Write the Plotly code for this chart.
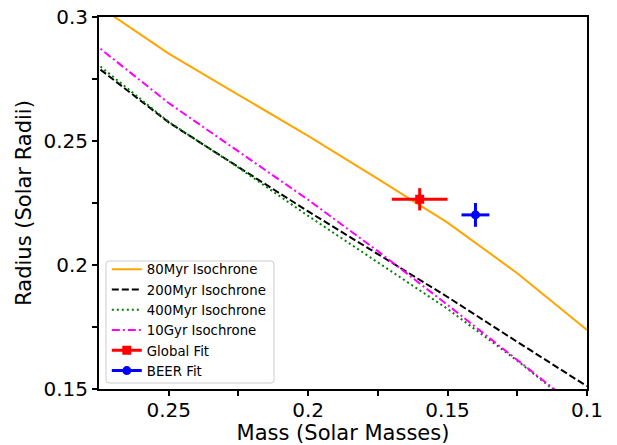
import plotly.graph_objects as go

# Isochrone mass grid (solar masses)
mass_grid = [0.3, 0.275, 0.25, 0.225, 0.2, 0.175, 0.15, 0.125, 0.1]

# Radii (solar radii) for each isochrone
r_80myr = [0.3234, 0.3044, 0.2852, 0.2686, 0.2521, 0.2347, 0.2171, 0.1967, 0.1738]
r_200myr = [0.3010, 0.2793, 0.2575, 0.2395, 0.2216, 0.2044, 0.1871, 0.1690, 0.1511]
r_400myr = [0.3022, 0.2805, 0.2577, 0.2393, 0.2198, 0.2011, 0.1823, 0.1614, 0.1390]
r_10gyr = [0.3100, 0.2875, 0.2653, 0.2458, 0.2263, 0.2056, 0.1839, 0.1617, 0.1395]

# Fits
global_mass = [0.160]
global_mass_err = [0.010]
global_radius = [0.2265]
global_radius_err = [0.0045]

beer_mass = [0.140]
beer_mass_err = [0.005]
beer_radius = [0.2202]
beer_radius_err = [0.0048]

FONT = "DejaVu Sans"

fig = go.Figure()

fig.add_trace(go.Scatter(x=mass_grid, y=r_80myr, mode="lines", name="80Myr Isochrone",
                         line=dict(color="orange", width=2)))
fig.add_trace(go.Scatter(x=mass_grid, y=r_200myr, mode="lines", name="200Myr Isochrone",
                         line=dict(color="black", width=2, dash="7px,3px")))
fig.add_trace(go.Scatter(x=mass_grid, y=r_400myr, mode="lines", name="400Myr Isochrone",
                         line=dict(color="green", width=2, dash="2px,3px")))
fig.add_trace(go.Scatter(x=mass_grid, y=r_10gyr, mode="lines", name="10Gyr Isochrone",
                         line=dict(color="magenta", width=2, dash="8px,3px,2px,3px")))

fig.add_trace(go.Scatter(x=global_mass, y=global_radius, mode="markers", name="Global Fit",
                         showlegend=False, legendgroup="g",
                         marker=dict(color="red", symbol="square", size=9),
                         error_x=dict(type="data", array=global_mass_err, color="red", thickness=3, width=0),
                         error_y=dict(type="data", array=global_radius_err, color="red", thickness=3, width=0)))
fig.add_trace(go.Scatter(x=beer_mass, y=beer_radius, mode="markers", name="BEER Fit",
                         showlegend=False, legendgroup="b",
                         marker=dict(color="blue", symbol="circle", size=9),
                         error_x=dict(type="data", array=beer_mass_err, color="blue", thickness=3, width=0),
                         error_y=dict(type="data", array=beer_radius_err, color="blue", thickness=3, width=0)))

# legend entries styled like matplotlib errorbar handles
fig.add_trace(go.Scatter(x=[None], y=[None], mode="lines+markers", name="Global Fit", legendgroup="g",
                         line=dict(color="red", width=3), marker=dict(color="red", symbol="square", size=9)))
fig.add_trace(go.Scatter(x=[None], y=[None], mode="lines+markers", name="BEER Fit", legendgroup="b",
                         line=dict(color="blue", width=3), marker=dict(color="blue", symbol="circle", size=9)))

axis_common = dict(
    showline=True, linecolor="black", linewidth=2, mirror=True,
    showgrid=False, zeroline=False, automargin=False,
    ticks="outside", ticklen=5, tickwidth=2, tickcolor="black",
    ticklabeloverflow="allow",
    tickfont=dict(family=FONT, size=20, color="black"),
)

fig.update_xaxes(
    range=[0.275, 0.1], tickmode="array",
    tickvals=[0.25, 0.2, 0.15, 0.1], ticktext=["0.25", "0.2", "0.15", "0.1"],
    minor=dict(tickvals=[0.225, 0.175, 0.125], ticks="outside", ticklen=5, tickwidth=2, tickcolor="black"),
    ticklabelstandoff=-3,
    title=dict(text="Mass (Solar Masses)", font=dict(family=FONT, size=21, color="black"), standoff=7),
    **axis_common,
)
fig.update_yaxes(
    range=[0.15, 0.3], tickmode="array",
    tickvals=[0.15, 0.2, 0.25, 0.3], ticktext=["0.15", "0.2", "0.25", "0.3"],
    minor=dict(tickvals=[0.175, 0.225, 0.275], ticks="outside", ticklen=5, tickwidth=2, tickcolor="black"),
    title=dict(text="Radius (Solar Radii)", font=dict(family=FONT, size=21, color="black"), standoff=6),
    **axis_common,
)

# Legend frame (matplotlib-style rounded box)
W, H = 488.0, 372.0
x0, x1, y0, y1 = 7 / W, 175 / W, 6 / H, 128 / H
rx, ry = 3 / W, 3 / H
frame_path = (
    f"M {x0+rx},{y0} L {x1-rx},{y0} Q {x1},{y0} {x1},{y0+ry} "
    f"L {x1},{y1-ry} Q {x1},{y1} {x1-rx},{y1} "
    f"L {x0+rx},{y1} Q {x0},{y1} {x0},{y1-ry} "
    f"L {x0},{y0+ry} Q {x0},{y0} {x0+rx},{y0} Z"
)
fig.add_shape(type="path", xref="paper", yref="paper", path=frame_path,
              fillcolor="rgba(255,255,255,0.8)", line=dict(color="#cccccc", width=1))

fig.update_layout(
    width=617, height=445,
    margin=dict(l=99, r=30, t=17, b=56, autoexpand=False),
    plot_bgcolor="white", paper_bgcolor="white",
    font=dict(family=FONT, color="black"),
    legend=dict(
        x=0.016, y=0.008, xanchor="left", yanchor="bottom",
        bgcolor="rgba(0,0,0,0)", borderwidth=0,
        font=dict(family=FONT, size=13.3, color="black"),
        tracegroupgap=0, itemwidth=30, traceorder="normal",
    ),
    showlegend=True,
)

fig.write_html(
    "out.html",
    config={"displayModeBar": False},
    post_script="document.body.style.margin='0';document.body.style.overflow='hidden';",
)
